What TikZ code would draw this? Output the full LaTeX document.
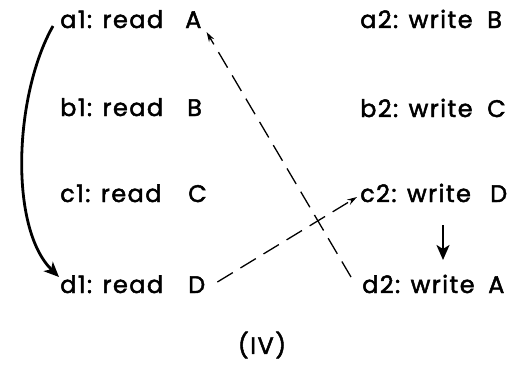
\documentclass[tikz,border=0pt]{standalone}
\usepackage{fontspec}
\setmainfont{Poppins}[LetterSpace=6,FakeBold=2]
\usetikzlibrary{arrows.meta}
\tikzset{
  lbl/.style={anchor=base west, inner sep=0pt, font=\fontsize{24}{26}\selectfont},
  dsh/.style={dash pattern=on 18pt off 9pt, line width=1.3pt, -{Stealth[length=10pt,width=6pt]}},
  thick arrow/.style={line width=2.8pt, -{Stealth[length=15pt,width=13pt,inset=4pt]}}
}
\begin{document}
\begin{tikzpicture}[x=1pt,y=-1pt]
\useasboundingbox (0,0) rectangle (519,365);
\node[lbl] (a1) at (60,28) {a1: read};
\node[lbl] (a1v) at (185,28) {A};
\node[lbl] (b1) at (60,116) {b1: read};
\node[lbl] (b1v) at (187,116) {B};
\node[lbl] (c1) at (60,202) {c1: read};
\node[lbl] (c1v) at (188,202) {C};
\node[lbl] (d1) at (60,293) {d1: read};
\node[lbl] (d1v) at (188,293) {D};
\node[lbl] (a2) at (360,28) {a2: write};
\node[lbl] (a2v) at (487,28) {B};
\node[lbl] (b2) at (360,117) {b2: write};
\node[lbl] (b2v) at (487,117) {C};
\node[lbl] (c2) at (360,202) {c2: write};
\node[lbl] (c2v) at (490,202) {D};
\node[lbl] (d2) at (362,293) {d2: write};
\node[lbl] (d2v) at (488,293) {A};
\node[inner sep=0pt, font=\fontsize{24}{26}\selectfont] (iv) at (262,345) {(IV)};
% curved solid arrow a1 -> d1
\draw[thick arrow] ([xshift=-7pt,yshift=2pt]a1.base west) .. controls (14,95) and (9,228) .. ([xshift=-1pt,yshift=16pt]d1.base west);
% dashed d2 -> A
\draw[dsh] ([xshift=-11pt,yshift=16pt]d2.base west) -- ([xshift=5pt,yshift=-4pt]a1v.base east);
% dashed D -> c2
\draw[dsh] ([xshift=12pt,yshift=11pt]d1v.base east) -- ([xshift=-3pt,yshift=5pt]c2.base west);
% down arrow c2 -> d2
\draw[thick arrow, line width=2.4pt] ([xshift=83pt,yshift=-23pt]c2.base west) -- ([xshift=81pt,yshift=33pt]d2.base west);
\end{tikzpicture}
\end{document}
